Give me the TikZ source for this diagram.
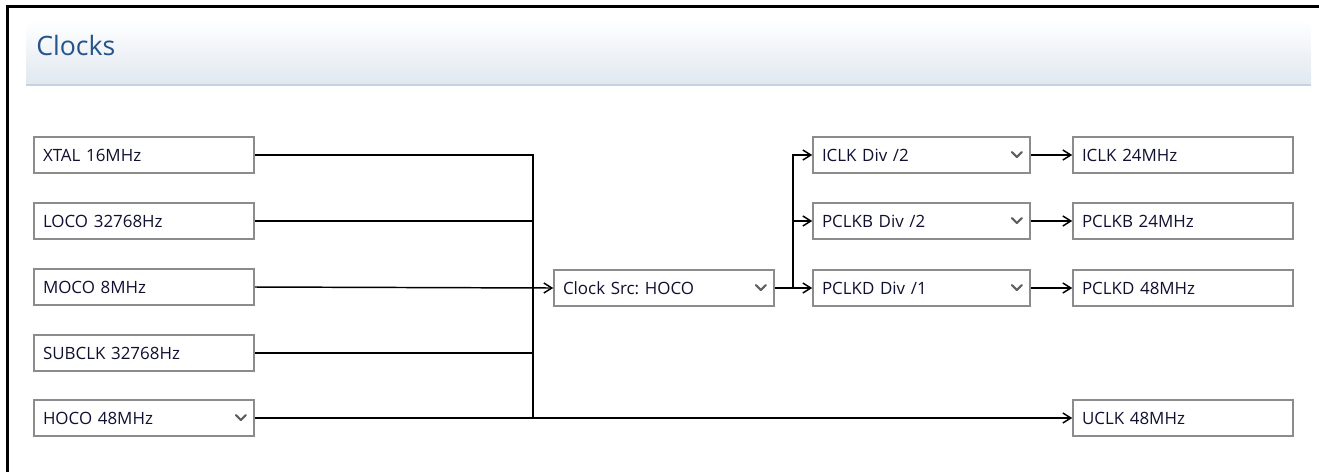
\documentclass[tikz,border=0pt]{standalone}
\usepackage{fontspec}
\setmainfont{Open Sans}
\usetikzlibrary{calc, arrows.meta}
\frenchspacing
\definecolor{bordo}{HTML}{8C8C8C}
\definecolor{testo}{HTML}{101030}
\definecolor{titolo}{HTML}{24548A}
\definecolor{fascia}{HTML}{E1E8F0}
\definecolor{riga}{HTML}{C4D2E1}
\definecolor{tasto}{HTML}{606060}

%freccina del menu a tendina
\newcommand{\tendina}[1]{\draw[chev] ($(#1.east)+(-19,-3)$) --++ (5,5) --++ (5,-5);}

\begin{document}
\begin{tikzpicture}[x=0.75pt, y=-0.75pt,
    box/.style={draw=bordo, line width=1.2pt, fill=white, text=testo,
        font=\fontsize{12.7}{14}\selectfont, minimum height=27pt,
        inner xsep=6.75pt, inner ysep=0pt, text width=151.5pt, align=left},
    boxdiv/.style={box, text width=149.25pt},
    filo/.style={line width=1.1pt},
    freccia/.style={filo, -{Straight Barb[length=6pt, width=7.5pt]}},
    chev/.style={tasto, line width=1.6pt, line cap=round, line join=round}]
    \useasboundingbox (0,0) rectangle (1319,472);
    %disegno cornice
    \draw[line width=2.25pt] (7,472) -- (7,6) -- (1319,6);
    %disegno fascia titolo
    \shade[top color=white, bottom color=fascia] (26,20) rectangle (1311,83);
    \draw[riga, line width=1.5pt] (26,85) -- (1311,85);
    \node[anchor=west, text=titolo, inner sep=0pt, font=\fontsize{20}{24}\selectfont] (tit) at (36,45) {Clocks};

    %disegno sorgenti
    \node[box] (xtal) at (144,155) {XTAL 16MHz};
    \node[box] (loco) at (144,221) {LOCO 32768Hz};
    \node[box] (moco) at (144,287) {MOCO 8MHz};
    \node[box] (subclk) at (144,353) {SUBCLK 32768Hz};
    \node[box] (hoco) at (144,418) {HOCO 48MHz};
    %disegno selettore
    \node[box] (src) at (664,288) {Clock Src: HOCO};
    %disegno divisori
    \node[boxdiv] (idiv) at (921.5,155) {ICLK Div /2};
    \node[boxdiv] (bdiv) at (921.5,221) {PCLKB Div /2};
    \node[boxdiv] (ddiv) at (921.5,288) {PCLKD Div /1};
    %disegno uscite
    \node[box] (iclk) at (1183,155) {ICLK 24MHz};
    \node[box] (pclkb) at (1183,221) {PCLKB 24MHz};
    \node[box] (pclkd) at (1183,288) {PCLKD 48MHz};
    \node[box] (uclk) at (1183,418) {UCLK 48MHz};
    %disegno tendine
    \tendina{hoco}
    \tendina{src}
    \tendina{idiv}
    \tendina{bdiv}
    \tendina{ddiv}

    %disegno collegamenti
    \coordinate (nodo) at (533,0);
    \coordinate (ramo) at (793,0);
    \draw[filo] (xtal.east) -- (xtal.east -| nodo) -- (hoco.east -| nodo);
    \draw[filo] (loco.east) -- (loco.east -| nodo);
    \draw[filo] (subclk.east) -- (subclk.east -| nodo);
    \draw[freccia] (moco.east) -- (src.west);
    \draw[freccia] (hoco.east) -- (uclk.west);
    \draw[freccia] (src.east) -- (ddiv.west);
    \draw[freccia] (src.east -| ramo) |- (idiv.west);
    \draw[freccia] (src.east -| ramo) |- (bdiv.west);
    \draw[freccia] (idiv) -- (iclk);
    \draw[freccia] (bdiv) -- (pclkb);
    \draw[freccia] (ddiv) -- (pclkd);
\end{tikzpicture}
\end{document}
